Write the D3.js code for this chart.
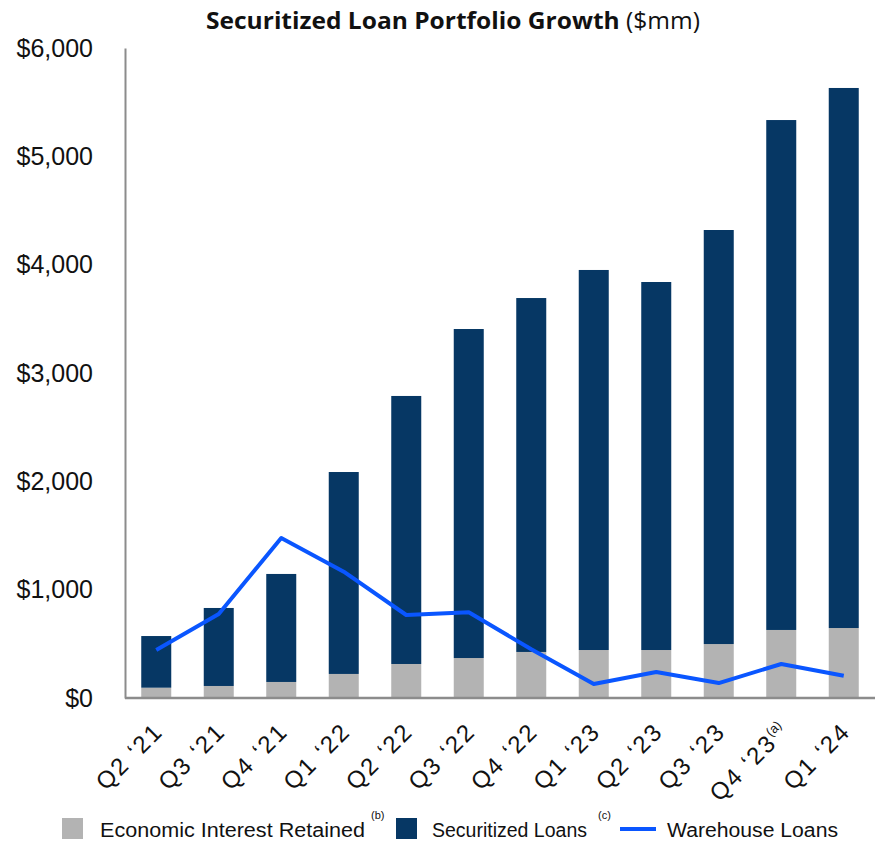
<!DOCTYPE html>
<html lang="en">
<head>
<meta charset="utf-8">
<title>Securitized Loan Portfolio Growth</title>
<script src="https://cdn.jsdelivr.net/npm/d3@7"></script>
<style>
  body { margin: 0; background: #fff; }
  text { font-family: "Liberation Sans", Arial, sans-serif; fill: #111; }
  .cal { font-family: "Open Sans", "Noto Sans", sans-serif; }
</style>
</head>
<body>
<div id="chart"></div>
<script>
// quarters on the x axis, with footnote marks
var quarters = ["Q2 \u201821", "Q3 \u201821", "Q4 \u201821", "Q1 \u201822", "Q2 \u201822", "Q3 \u201822",
                "Q4 \u201822", "Q1 \u201823", "Q2 \u201823", "Q3 \u201823", "Q4 \u201823", "Q1 \u201824"];
var footnotes = ["", "", "", "", "", "", "", "", "", "", "(a)", ""];

// $mm
var econRetained = [95, 111, 148, 222, 314, 369, 425, 443, 443, 498, 628, 646];
var securitized  = [477, 720, 997, 1864, 2474, 3037, 3267, 3508, 3397, 3822, 4707, 4985];
var warehouse    = [443, 775, 1477, 1166, 766, 791, 450, 129, 240, 138, 314, 206];

var yTicks = [0, 1000, 2000, 3000, 4000, 5000, 6000];

var colors = {econ: "#b3b3b3", sec: "#063764", wh: "#0a56ff", axis: "#8c8c8c"};

var W = 877, H = 841;
var margin = {top: 48, right: 2, bottom: 143, left: 125};
var width = W - margin.left - margin.right;
var height = H - margin.top - margin.bottom;

var svg = d3.select("#chart").append("svg")
    .attr("width", W)
    .attr("height", H);

var g = svg.append("g")
    .attr("transform", "translate(" + margin.left + "," + margin.top + ")");

var x = d3.scaleBand()
    .domain(quarters)
    .range([0, width])
    .paddingInner(0.52)
    .paddingOuter(0.26);

var y = d3.scaleLinear()
    .domain([0, 6000])
    .range([height, 0]);

var rows = quarters.map(function(q, i) {
    return {q: q, econ: econRetained[i], sec: securitized[i], wh: warehouse[i], note: footnotes[i]};
});

var stack = d3.stack().keys(["econ", "sec"])(rows);

g.selectAll("g.layer")
    .data(stack)
    .enter().append("g")
    .attr("class", "layer")
    .attr("fill", function(d) { return colors[d.key]; })
    .selectAll("rect")
    .data(function(d) { return d; })
    .enter().append("rect")
    .attr("x", function(d) { return x(d.data.q); })
    .attr("y", function(d) { return y(d[1]); })
    .attr("width", x.bandwidth())
    .attr("height", function(d) { return y(d[0]) - y(d[1]); });

// warehouse line
var line = d3.line()
    .x(function(d) { return x(d.q) + x.bandwidth() / 2; })
    .y(function(d) { return y(d.wh); });

g.append("path")
    .datum(rows)
    .attr("fill", "none")
    .attr("stroke", colors.wh)
    .attr("stroke-width", 4)
    .attr("stroke-linejoin", "round")
    .attr("d", line);

// axes
var yAxis = d3.axisLeft(y)
    .tickValues(yTicks)
    .tickSize(0)
    .tickPadding(32)
    .tickFormat(function(d) { return "$" + d3.format(",")(d); });

var yg = g.append("g").call(yAxis);
yg.select(".domain").attr("stroke", colors.axis).attr("stroke-width", 2);
yg.selectAll("text").style("font-size", "25px").style("font-family", "'Liberation Sans', Arial, sans-serif").attr("fill", "#111");

g.append("line")
    .attr("x1", 0).attr("x2", width)
    .attr("y1", height).attr("y2", height)
    .attr("stroke", colors.axis).attr("stroke-width", 2.5);

// rotated quarter labels
var xl = g.selectAll("text.xl")
    .data(rows)
    .enter().append("text")
    .attr("class", "xl")
    .attr("text-anchor", "end")
    .attr("transform", function(d) {
        return "translate(" + (x(d.q) + x.bandwidth() / 2 + 8) + "," + (height + 35) + ") rotate(-45)";
    })
    .style("font-size", "24px")
    .style("letter-spacing", "2px");

xl.append("tspan").text(function(d) { return d.q; });
xl.append("tspan")
    .attr("dy", "-0.75em")
    .style("font-size", "13px")
    .style("letter-spacing", "0px")
    .text(function(d) { return d.note; });

// title
var title = svg.append("text")
    .attr("class", "cal")
    .attr("x", 453)
    .attr("y", 29)
    .attr("text-anchor", "middle")
    .attr("textLength", 494)
    .attr("lengthAdjust", "spacingAndGlyphs")
    .style("font-size", "23px");
title.append("tspan").style("font-weight", "bold").text("Securitized Loan Portfolio Growth ");
title.append("tspan").text("($mm)");

// legend
var legend = svg.append("g").attr("class", "cal");
var ly = 829;

legend.append("rect").attr("x", 62).attr("y", ly - 11).attr("width", 21).attr("height", 21).attr("fill", colors.econ);
legend.append("text").attr("x", 100).attr("y", ly + 8)
    .attr("textLength", 265).attr("lengthAdjust", "spacingAndGlyphs")
    .style("font-size", "20px").text("Economic Interest Retained");
legend.append("text").attr("x", 371).attr("y", ly - 10).style("font-size", "11px").text("(b)");

legend.append("rect").attr("x", 396).attr("y", ly - 11).attr("width", 21).attr("height", 21).attr("fill", colors.sec);
legend.append("text").attr("x", 432).attr("y", ly + 8)
    .attr("textLength", 155).attr("lengthAdjust", "spacingAndGlyphs")
    .style("font-size", "20px").text("Securitized Loans");
legend.append("text").attr("x", 598).attr("y", ly - 10).style("font-size", "11px").text("(c)");

legend.append("line").attr("x1", 620).attr("x2", 656).attr("y1", ly).attr("y2", ly)
    .attr("stroke", colors.wh).attr("stroke-width", 4);
legend.append("text").attr("x", 667).attr("y", ly + 8)
    .attr("textLength", 171).attr("lengthAdjust", "spacingAndGlyphs")
    .style("font-size", "20px").text("Warehouse Loans");
</script>
</body>
</html>
